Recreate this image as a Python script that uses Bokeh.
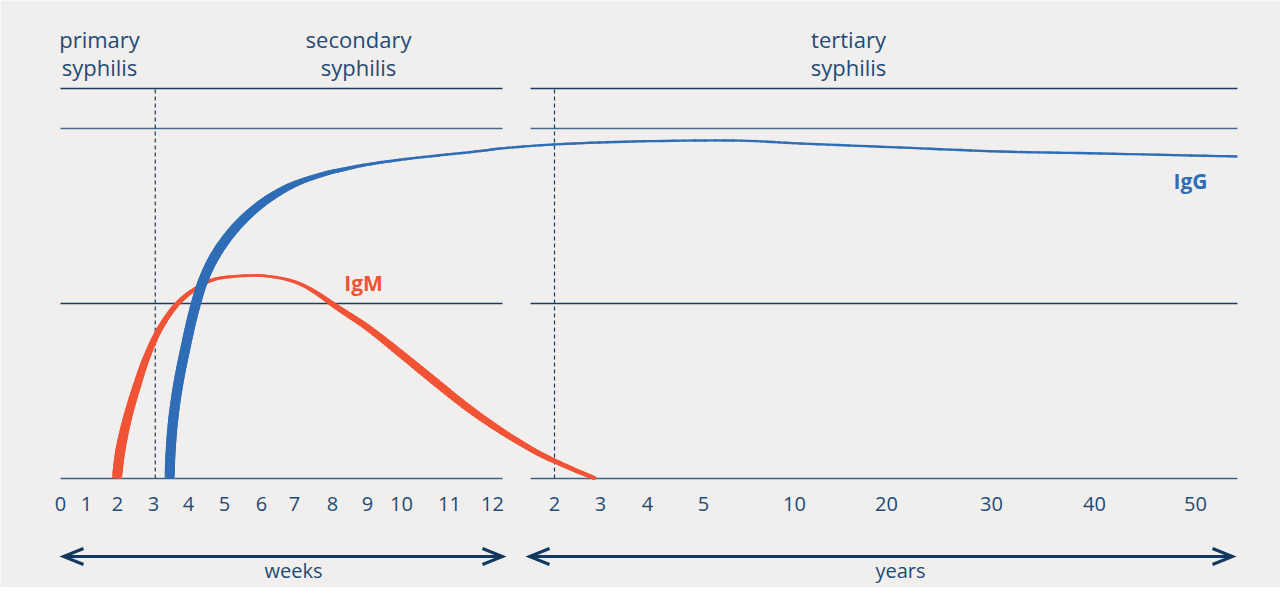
import numpy as np
from bokeh.plotting import figure
from bokeh.models import Range1d, ColumnDataSource
from bokeh.core.properties import value
from bokeh.embed import file_html
from bokeh.resources import INLINE

# ---------------- data ----------------
week_ticks = list(range(13))
week_labels = [str(w) for w in week_ticks]
year_ticks = [2, 3, 4, 5, 10, 20, 30, 40, 50]
year_labels = [str(y) for y in year_ticks]
axis_units = ["weeks", "years"]

stage_line1 = ["primary", "secondary", "tertiary"]
stage_line2 = ["syphilis", "syphilis", "syphilis"]

# time in weeks, antibody level in arbitrary units (schematic)
igm_weeks = [1.98, 2.08, 2.28, 2.56, 2.83, 3.20, 3.69, 4.25, 4.81, 5.70, 6.27, 6.88,
             7.29, 7.68, 8.14, 9.00, 9.97, 10.67, 11.42, 23.9, 72.8, 102.5, 125.5, 150.3]
igm_level = [0, 28, 61, 95, 123, 151, 175, 191, 200, 203, 202, 198,
             192, 183, 171, 151, 125, 98, 71, 48, 28, 18, 9, 0]

igg_weeks = [3.46, 3.49, 3.57, 3.71, 3.91, 4.14, 4.42, 4.81, 5.35, 5.97, 6.67, 7.24,
             7.87, 8.23, 9.0, 10.19, 11.72, 23.9, 102.5, 192.5, 345.7, 554, 1109,
             1605, 2111, 2814]
igg_level = [0, 28, 61, 95, 130, 166, 199, 227, 253, 274, 289, 298,
             305.5, 308.5, 314, 320, 327.5, 330, 334, 337, 338, 335, 331,
             327, 325, 322]

grid_levels = [0, 175, 350, 390]
marker_weeks = [3.05, 104]  # dashed markers (3 weeks, 2 years)

# ---------------- layout / style ----------------
WEEK_POS = [60, 86, 117, 153, 188, 224, 261, 294, 332, 367, 401, 449, 492]
YEAR_POS = [554, 600, 647, 703, 794, 886, 991, 1094, 1195]
KNOT_W = week_ticks + [y * 52 for y in year_ticks] + [55 * 52]
KNOT_P = WEEK_POS + YEAR_POS + [1246]

def pos(w):
    return np.interp(np.asarray(w, dtype=float), KNOT_W, KNOT_P)

PANELS = [(60, 502), (530, 1237)]
IGM_W = [10, 10, 9, 8, 7, 6, 5, 4, 3.2, 2.7, 2.7, 3,
         3.6, 4.5, 5.5, 6.5, 7.5, 8, 7.5, 6.5, 5.5, 5, 4.5, 4]
IGG_W = [10, 10, 10, 10, 10, 10, 10, 10, 9.5, 8.5, 7, 5.5,
         4.5, 4, 3, 2.6, 2.4, 2.4, 2.4, 2.4, 2.4, 2.4, 2.4,
         2.4, 2.4, 2.4]

BG = "#f0efed"
NAVY = "#1f4b76"
LINE = "#1b3b60"
BLUE = "#2f6db6"
RED = "#f15336"
FONT = value("Open Sans")

BASE_Y = 478  # pixel row of level 0

def lvl(py):
    return BASE_Y - py

p = figure(width=1280, height=587, output_backend="svg", toolbar_location=None,
           x_axis_type=None, y_axis_type=None,
           x_range=Range1d(0, 1280), y_range=Range1d(lvl(587), lvl(0)),
           min_border=0, min_border_left=0, min_border_right=0,
           min_border_top=0, min_border_bottom=0)
p.background_fill_color = BG
p.border_fill_color = BG
p.outline_line_color = None
p.grid.visible = False

# horizontal reference lines
grid_colors = ["#3d6289", LINE, "#46698e", LINE]
for g, c in zip(grid_levels, grid_colors):
    p.segment(x0=[a for a, b in PANELS], x1=[b for a, b in PANELS],
              y0=[g, g], y1=[g, g], line_color=c, line_width=1.6)

# dashed markers
mx = pos(marker_weeks)
p.segment(x0=mx, x1=mx, y0=[0, 0], y1=[grid_levels[-1]] * 2,
          line_color=LINE, line_width=1.2, line_dash="4 3")

def smooth(x, y, w, n=10):
    # Catmull-Rom rendering through the read points (drawing only)
    X, Y, W = [x[0]], [y[0]], [w[0]]
    m = len(x)
    for i in range(m - 1):
        i0, i3 = max(i - 1, 0), min(i + 2, m - 1)
        for k in range(1, n + 1):
            t = k / n
            t2, t3 = t * t, t * t * t
            def cr(a):
                return 0.5 * (2 * a[i] + (-a[i0] + a[i + 1]) * t +
                              (2 * a[i0] - 5 * a[i] + 4 * a[i + 1] - a[i3]) * t2 +
                              (-a[i0] + 3 * a[i] - 3 * a[i + 1] + a[i3]) * t3)
            X.append(cr(x)); Y.append(cr(y))
            W.append(w[i] + (w[i + 1] - w[i]) * t)
    return np.array(X), np.array(Y), np.array(W)

def tapered(weeks, levels, widths, color):
    x, y, w = smooth(pos(weeks), np.asarray(levels, float), np.asarray(widths, float))
    src = ColumnDataSource(dict(x0=x[:-1], x1=x[1:], y0=y[:-1], y1=y[1:],
                                w=(w[:-1] + w[1:]) / 2))
    p.segment(x0="x0", x1="x1", y0="y0", y1="y1", line_width="w",
              line_color=color, line_cap="butt", source=src)
    src2 = ColumnDataSource(dict(x=x[3:-1], y=y[3:-1], s=w[3:-1]))
    p.scatter(x="x", y="y", size="s", marker="circle", fill_color=color,
              line_color=None, source=src2)

tapered(igm_weeks, igm_level, IGM_W, RED)
tapered(igg_weeks, igg_level, IGG_W, BLUE)

# curve labels
p.text(x=[363], y=[lvl(282)], text=["IgM"], text_font=FONT,
       text_font_style="bold", text_font_size="21px", text_color=RED,
       text_align="center", text_baseline="middle")
p.text(x=[1190], y=[lvl(180)], text=["IgG"], text_font=FONT,
       text_font_style="bold", text_font_size="21px", text_color=BLUE,
       text_align="center", text_baseline="middle")

# tick labels
tick_x = list(pos(week_ticks)) + list(pos([y * 52 for y in year_ticks]))
p.text(x=tick_x, y=[lvl(503)] * len(tick_x), text=week_labels + year_labels,
       text_font=FONT, text_font_size="20px", text_color=NAVY,
       text_align="center", text_baseline="middle")

# stage titles
stage_x = [99, 358, 848]
p.text(x=stage_x, y=[lvl(38)] * 3, text=stage_line1, text_font=FONT,
       text_font_size="22px", text_color=NAVY, text_align="center",
       text_baseline="middle")
p.text(x=stage_x, y=[lvl(66)] * 3, text=stage_line2, text_font=FONT,
       text_font_size="22px", text_color=NAVY, text_align="center",
       text_baseline="middle")

# double-headed arrows
ARROW_Y = lvl(556)
ARROWS = [(63, 502), (529, 1232)]
AH_L, AH_H = 20, 8
xs, ys = [], []
for a, b in ARROWS:
    xs.append([a, b]); ys.append([ARROW_Y, ARROW_Y])
    xs.append([a + AH_L, a, a + AH_L]); ys.append([ARROW_Y + AH_H, ARROW_Y, ARROW_Y - AH_H])
    xs.append([b - AH_L, b, b - AH_L]); ys.append([ARROW_Y + AH_H, ARROW_Y, ARROW_Y - AH_H])
p.multi_line(xs=xs, ys=ys, line_color="#12385f", line_width=3,
             line_join="miter", line_cap="butt")
p.text(x=[293, 900], y=[lvl(570)] * 2, text=axis_units, text_font=FONT,
       text_font_size="20px", text_color=NAVY, text_align="center",
       text_baseline="middle")

open("out.html", "w").write(file_html(p, INLINE))
